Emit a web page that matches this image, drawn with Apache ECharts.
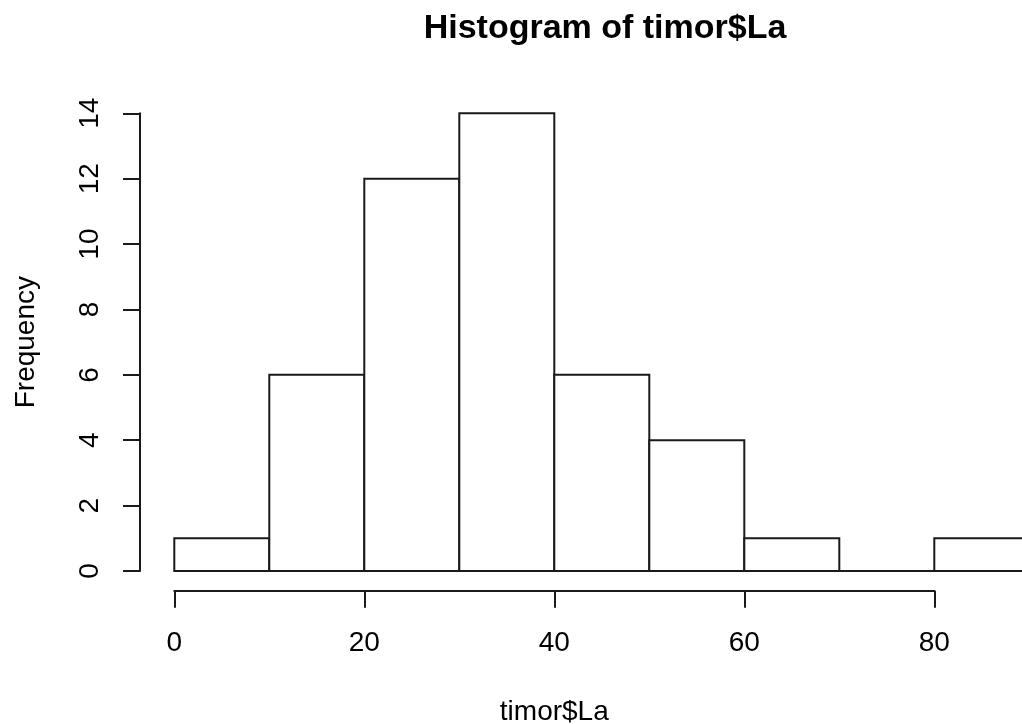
<!DOCTYPE html>
<html>
<head>
<meta charset="utf-8">
<title>Histogram of timor$La</title>
<script src="https://cdn.jsdelivr.net/npm/echarts@6/dist/echarts.min.js"></script>
<style>
  html, body { margin: 0; padding: 0; background: #ffffff; }
  #chart { width: 1022px; height: 724px; }
</style>
</head>
<body>
<div id="chart"></div>
<script>
// Histogram bins: lower/upper edges and observed counts
const binStart = [0, 10, 20, 30, 40, 50, 60, 70, 80];
const binEnd   = [10, 20, 30, 40, 50, 60, 70, 80, 90];
const counts   = [1, 6, 12, 14, 6, 4, 1, 0, 1];

// Axis ranges and tick steps
const xRange = [0, 80];
const xStep = 20;
const yRange = [0, 14];
const yStep = 2;

const titleText = 'Histogram of timor$La';
const xLabel = 'timor$La';
const yLabel = 'Frequency';

const FONT = '"Liberation Sans", Arial, sans-serif';
const INK = '#1a1a1a';

const binData = binStart.map((s, i) => [s, binEnd[i], counts[i]]);

// Plot area: 0..80 on x spans 760px, 0..14 on y spans 457.7px
const PLOT = { left: 174.3, top: 113.3, width: 760, height: 457.7 };
const X_AXIS_Y = 590.7;   // detached x axis, drawn below the bars
const Y_AXIS_X = 140;     // detached y axis, drawn left of the bars

const lineStyle = { color: INK, width: 2 };

const chart = echarts.init(document.getElementById('chart'), null, { renderer: 'canvas' });

chart.setOption({
  backgroundColor: '#ffffff',
  animation: false,
  textStyle: { fontFamily: FONT },
  title: {
    text: titleText,
    left: 600,
    textAlign: 'center',
    top: 7,
    textStyle: { fontFamily: FONT, fontWeight: 'bold', fontSize: 34, color: '#000' }
  },
  grid: [
    // bars
    { left: PLOT.left, top: PLOT.top, width: PLOT.width, height: PLOT.height,
      containLabel: false, outerBoundsMode: 'none' },
    // x axis strip
    { left: PLOT.left, top: X_AXIS_Y - 10, width: PLOT.width, height: 10,
      containLabel: false, outerBoundsMode: 'none' },
    // y axis strip
    { left: Y_AXIS_X, top: PLOT.top, width: 10, height: PLOT.height,
      containLabel: false, outerBoundsMode: 'none' }
  ],
  xAxis: [
    { gridIndex: 0, type: 'value', min: xRange[0], max: xRange[1], show: false },
    {
      gridIndex: 1,
      type: 'value',
      position: 'bottom',
      min: xRange[0],
      max: xRange[1],
      interval: xStep,
      splitLine: { show: false },
      axisLine: { show: true, lineStyle: lineStyle },
      axisTick: { show: true, length: 17, lineStyle: lineStyle },
      axisLabel: { margin: 39, fontSize: 28, color: '#000', fontFamily: FONT },
      name: xLabel,
      nameLocation: 'middle',
      nameGap: 108,
      nameTextStyle: { fontSize: 28, color: '#000', fontFamily: FONT }
    },
    { gridIndex: 2, type: 'value', min: 0, max: 1, show: false }
  ],
  yAxis: [
    { gridIndex: 0, type: 'value', min: yRange[0], max: yRange[1], show: false },
    { gridIndex: 1, type: 'value', min: 0, max: 1, show: false },
    {
      gridIndex: 2,
      type: 'value',
      position: 'left',
      min: yRange[0],
      max: yRange[1],
      interval: yStep,
      splitLine: { show: false },
      axisLine: { show: true, lineStyle: lineStyle },
      axisTick: { show: true, length: 17, lineStyle: lineStyle },
      axisLabel: { rotate: 90, margin: 36, fontSize: 28, color: '#000', fontFamily: FONT },
      name: yLabel,
      nameLocation: 'middle',
      nameGap: 100,
      nameTextStyle: { fontSize: 28, color: '#000', fontFamily: FONT }
    }
  ],
  series: [{
    type: 'custom',
    xAxisIndex: 0,
    yAxisIndex: 0,
    clip: false,
    data: binData,
    encode: { x: [0, 1], y: 2 },
    renderItem: function (params, api) {
      const lo = api.coord([api.value(0), 0]);
      const hi = api.coord([api.value(1), api.value(2)]);
      return {
        type: 'rect',
        shape: { x: lo[0], y: hi[1], width: hi[0] - lo[0], height: lo[1] - hi[1] },
        style: { fill: '#ffffff', stroke: INK, lineWidth: 2 }
      };
    }
  }]
});
</script>
</body>
</html>
